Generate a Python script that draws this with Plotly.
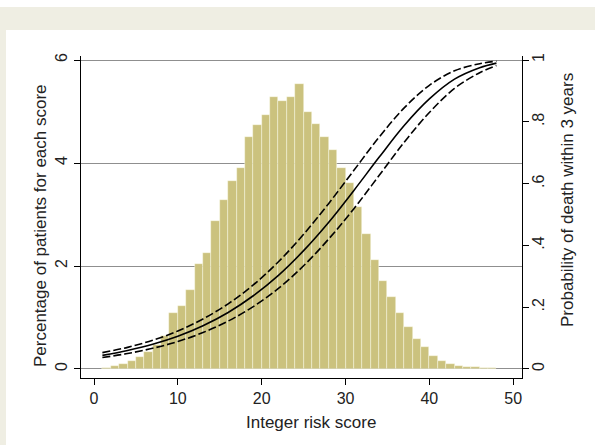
import plotly.graph_objects as go

# ---- data ----
scores = list(range(1, 48))
pct_patients = [0.02, 0.05, 0.10, 0.16, 0.23, 0.33, 0.47, 0.65, 1.08, 1.22,
                1.54, 2.03, 2.26, 2.88, 3.29, 3.65, 3.91, 4.51, 4.74, 4.93,
                5.29, 5.20, 5.29, 5.53, 5.00, 4.75, 4.51, 4.25, 3.90, 3.61,
                3.15, 2.63, 2.12, 1.71, 1.40, 1.09, 0.81, 0.59, 0.42, 0.26,
                0.16, 0.10, 0.06, 0.04, 0.03, 0.02, 0.01]

curve_scores = [1, 4, 7, 10, 13, 16, 19, 22, 25, 28, 31, 34, 37, 40, 43, 46, 48]
prob_mid = [0.044, 0.060, 0.080, 0.106, 0.140, 0.183, 0.237, 0.303, 0.383,
            0.475, 0.578, 0.685, 0.788, 0.874, 0.938, 0.975, 0.990]
prob_upper = [0.053, 0.070, 0.093, 0.123, 0.162, 0.211, 0.272, 0.347, 0.436,
              0.536, 0.643, 0.750, 0.845, 0.918, 0.965, 0.988, 0.996]
prob_lower = [0.037, 0.050, 0.067, 0.089, 0.118, 0.155, 0.202, 0.261, 0.334,
              0.421, 0.519, 0.626, 0.734, 0.830, 0.908, 0.959, 0.982]

x_ticks = [0, 10, 20, 30, 40, 50]
y_ticks = [0, 2, 4, 6]
y2_ticks = [0, 0.2, 0.4, 0.6, 0.8, 1]
y2_ticktext = ["0", ".2", ".4", ".6", ".8", "1"]

FONT = "Liberation Sans, Arial, sans-serif"
W, H = 595, 445
L, R, T, B = 81, 73, 56, 67

fig = go.Figure()
fig.add_trace(go.Bar(
    x=scores, y=pct_patients, width=1, offset=0,
    marker=dict(color="#cbc27e", line=dict(color="rgba(255,255,240,0.7)", width=0.6)),
    yaxis="y", showlegend=False,
))
for ys, dash in [(prob_upper, "8px,3px"), (prob_lower, "8px,3px"), (prob_mid, "solid")]:
    fig.add_trace(go.Scatter(
        x=curve_scores, y=ys, mode="lines", yaxis="y2",
        line=dict(color="black", width=1.6, dash=dash, shape="spline", smoothing=1.0),
        showlegend=False,
    ))

pw = W - L - R
ph = H - T - B
def px2x(px):
    return (px - L) / pw
def py2y(py):
    return (H - B - py) / ph

beige = "#efeee3"
shapes = [
    dict(type="rect", xref="paper", yref="paper", x0=px2x(-2), x1=px2x(W + 2),
         y0=py2y(30), y1=py2y(7), fillcolor=beige, line=dict(width=0), layer="below"),
    dict(type="rect", xref="paper", yref="paper", x0=px2x(-2), x1=px2x(6),
         y0=py2y(H + 2), y1=py2y(7), fillcolor=beige, line=dict(width=0), layer="below"),
]

annotations = [
    dict(text="Integer risk score", xref="paper", yref="paper",
         x=px2x(311), y=py2y(422), xanchor="center", yanchor="middle",
         showarrow=False, font=dict(family=FONT, size=17, color="#222")),
    dict(text="Percentage of patients for each score", xref="paper", yref="paper",
         x=px2x(40), y=py2y(226), xanchor="center", yanchor="middle", textangle=-90,
         showarrow=False, font=dict(family=FONT, size=17, color="#222")),
    dict(text="Probability of death within 3 years", xref="paper", yref="paper",
         x=px2x(567), y=py2y(200), xanchor="center", yanchor="middle", textangle=-90,
         showarrow=False, font=dict(family=FONT, size=17, color="#222")),
]

fig.update_layout(
    width=W, height=H,
    margin=dict(l=L, r=R, t=T, b=B, pad=0),
    paper_bgcolor="white", plot_bgcolor="white",
    bargap=0,
    font=dict(family=FONT, size=16, color="#222"),
    shapes=shapes, annotations=annotations,
    xaxis=dict(range=[-1.55, 51.05], tickvals=x_ticks, showgrid=False, zeroline=False,
               showline=True, linecolor="black", linewidth=1.3,
               ticks="outside", ticklen=6, tickcolor="black", tickwidth=1.2,
               tickfont=dict(size=16)),
    yaxis=dict(range=[-0.175, 6.078], tickvals=y_ticks, showgrid=True,
               gridcolor="#8f8f8f", gridwidth=1, zeroline=False,
               showline=True, linecolor="black", linewidth=1.3,
               ticks="outside", ticklen=6, tickcolor="black", tickwidth=1.2,
               tickangle=-90, tickfont=dict(size=16)),
    yaxis2=dict(range=[-0.175 / 6, 6.078 / 6], tickvals=y2_ticks, ticktext=y2_ticktext,
                overlaying="y", side="right", showgrid=False, zeroline=False,
                showline=True, linecolor="black", linewidth=1.3,
                ticks="outside", ticklen=6, tickcolor="black", tickwidth=1.2,
                tickangle=-90, tickfont=dict(size=16), ticklabelstandoff=-4),
)

fig.write_html("out.html", config={"displayModeBar": False},
               post_script="document.body.style.margin='0px';")
